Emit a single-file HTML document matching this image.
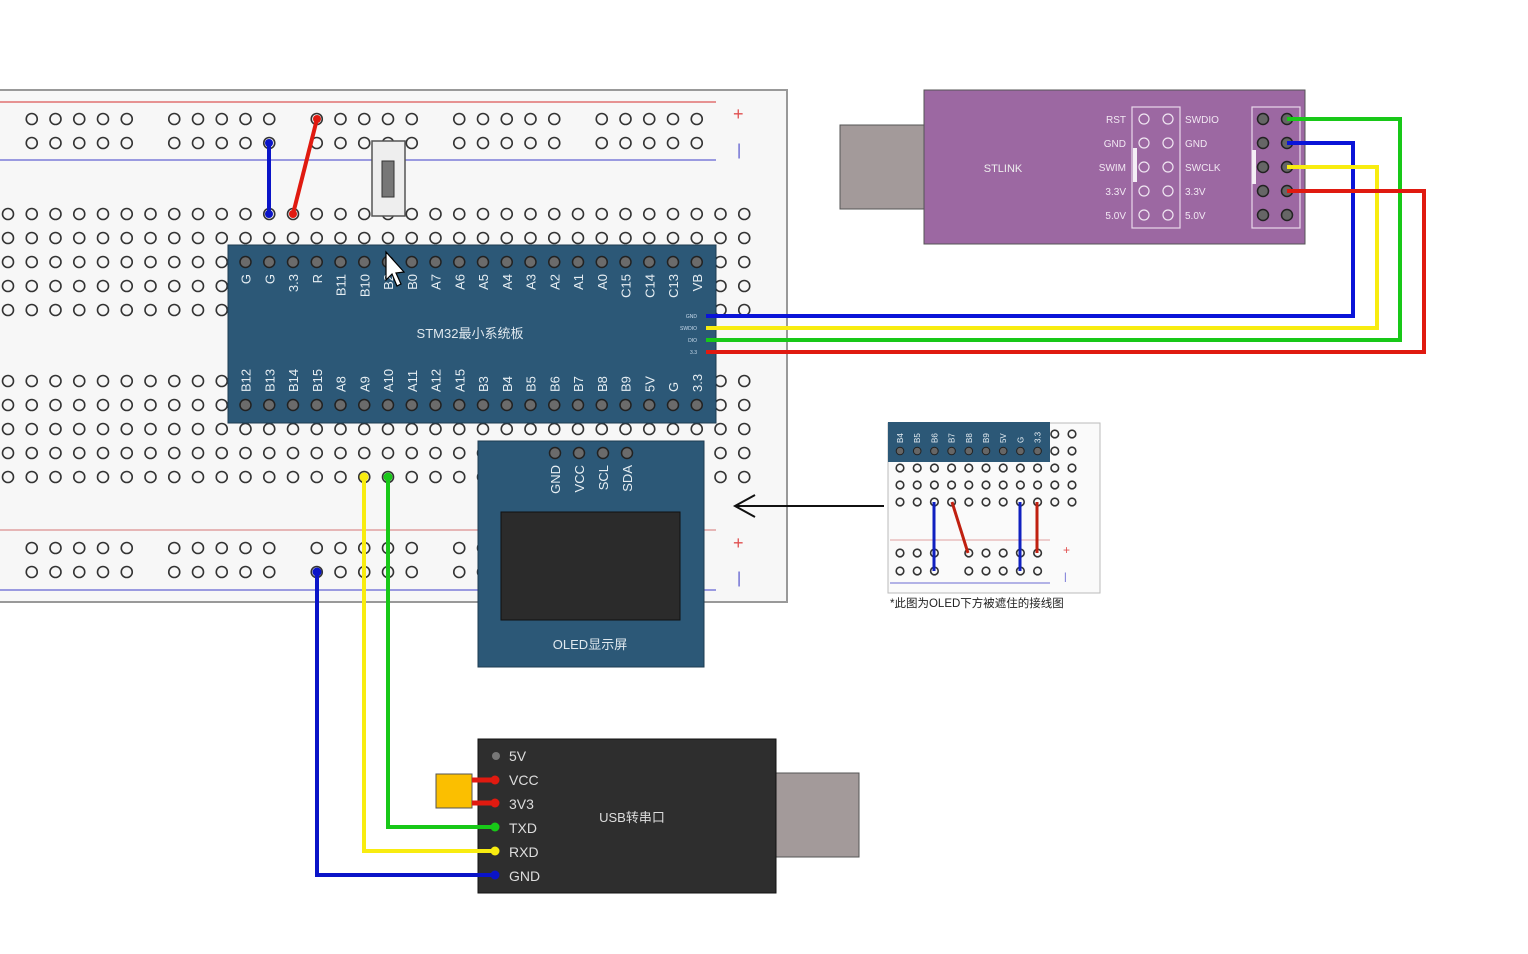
<!DOCTYPE html>
<html><head><meta charset="utf-8"><style>
html,body{margin:0;padding:0;background:#fff;width:1528px;height:954px;overflow:hidden}
svg{display:block}
text{font-family:"Liberation Sans","Noto Sans CJK SC",sans-serif}
</style></head><body>
<svg id="s" width="1528" height="954" xmlns="http://www.w3.org/2000/svg">
<rect x="-4" y="90" width="791" height="512" fill="#f7f7f7" stroke="#999" stroke-width="2"/>
<line x1="0" y1="102" x2="716" y2="102" stroke="#e07070" stroke-width="1.5"/>
<line x1="0" y1="160" x2="716" y2="160" stroke="#9a9ae0" stroke-width="2"/>
<line x1="0" y1="530" x2="716" y2="530" stroke="#e0a0a0" stroke-width="1.5"/>
<line x1="0" y1="590" x2="716" y2="590" stroke="#9a9ae0" stroke-width="2"/>
<text x="733" y="120" fill="#e05050" font-size="18">+</text>
<text x="737" y="155" fill="#6060d0" font-size="16">|</text>
<text x="733" y="549" fill="#e05050" font-size="18">+</text>
<text x="737" y="583" fill="#6060d0" font-size="16">|</text>
<g id="holes"></g>
<g id="wires1"></g>
<rect x="372" y="141" width="33" height="75" fill="#eee" stroke="#555" stroke-width="1.5"/>
<rect x="382" y="161" width="12" height="36" fill="#777" stroke="#333"/>
<rect x="228" y="245" width="488" height="178" fill="#2c5877" stroke="#1d3b52"/>
<g id="stm"></g>
<text x="470" y="338" fill="#dfe8ee" font-size="13" text-anchor="middle">STM32最小系统板</text>
<rect x="478" y="441" width="226" height="226" fill="#2c5877" stroke="#1d3b52"/>
<rect x="501" y="512" width="179" height="108" fill="#2b2b2b" stroke="#111"/>
<g id="oled"></g>
<text x="590" y="649" fill="#dfe8ee" font-size="13" text-anchor="middle">OLED显示屏</text>
<rect x="840" y="125" width="85" height="84" fill="#a39a9a" stroke="#555"/>
<rect x="924" y="90" width="381" height="154" fill="#9c68a2" stroke="#555"/>
<text x="1003" y="172" fill="#eee" font-size="11" text-anchor="middle">STLINK</text>
<rect x="1132" y="107" width="48" height="121" fill="none" stroke="#e8d8ea" stroke-width="1.2"/>
<rect x="1252" y="107" width="48" height="121" fill="none" stroke="#e8d8ea" stroke-width="1.2"/>
<rect x="1133" y="148" width="4" height="34" fill="#f4eef5"/>
<rect x="1252" y="150" width="4" height="34" fill="#f4eef5"/>
<g id="stl"></g>
<rect x="776" y="773" width="83" height="84" fill="#a39a9a" stroke="#555"/>
<rect x="478" y="739" width="298" height="154" fill="#2e2e2e" stroke="#111"/>
<rect x="436" y="774" width="36" height="34" fill="#fbbf00" stroke="#555"/>
<circle cx="496" cy="756" r="4" fill="#777"/>
<text x="632" y="822" fill="#ddd" font-size="13" text-anchor="middle">USB转串口</text>
<g id="usb"></g>
<line x1="884" y1="506" x2="735" y2="506" stroke="#111" stroke-width="2"/>
<polyline points="755,495 735,506 755,517" fill="none" stroke="#111" stroke-width="2"/>
<rect x="888" y="423" width="212" height="170" fill="#fafafa" stroke="#bbb"/>
<line x1="890" y1="540" x2="1050" y2="540" stroke="#e0a0a0"/>
<line x1="890" y1="583" x2="1050" y2="583" stroke="#9a9ae0" stroke-width="1.5"/>
<text x="1063" y="554" fill="#e05050" font-size="12">+</text>
<text x="1064" y="580" fill="#6060d0" font-size="10">|</text>
<g id="ins"></g>
<text x="890" y="607" fill="#222" font-size="11.5">*此图为OLED下方被遮住的接线图</text>
<g id="wires2"></g>
</svg>
<script>
(function(){
var NS="http://www.w3.org/2000/svg";
function el(p,t,a,txt){var e=document.createElementNS(NS,t);for(var k in a)e.setAttribute(k,a[k]);if(txt!=null)e.textContent=txt;document.getElementById(p).appendChild(e);return e;}
function cx(i){return 8+i*23.75;}
function hole(g,x,y,r){el(g,"circle",{cx:x,cy:y,r:r||5.5,fill:"none",stroke:"#333","stroke-width":1.6});}
[214,238,262,286,310,381,405,429,453,477].forEach(function(y){for(var i=0;i<32;i++)hole("holes",cx(i),y);});
[119,143,548,572].forEach(function(y){[1,7,13,19,25].forEach(function(s){for(var i=s;i<s+5;i++)hole("holes",cx(i),y);});});
var tl=["G","G","3.3","R","B11","B10","B2","B0","A7","A6","A5","A4","A3","A2","A1","A0","C15","C14","C13","VB"];
var bl=["B12","B13","B14","B15","A8","A9","A10","A11","A12","A15","B3","B4","B5","B6","B7","B8","B9","5V","G","3.3"];
for(var k=0;k<20;k++){var x=cx(10+k);
el("stm","circle",{cx:x,cy:262,r:5.5,fill:"#6b6b6b",stroke:"#222","stroke-width":1.5});
el("stm","circle",{cx:x,cy:405,r:5.5,fill:"#6b6b6b",stroke:"#222","stroke-width":1.5});
el("stm","text",{x:x+5,y:274,transform:"rotate(-90 "+(x+5)+" 274)","text-anchor":"end",fill:"#e6eef3","font-size":13},tl[k]);
el("stm","text",{x:x+5,y:392,transform:"rotate(-90 "+(x+5)+" 392)","text-anchor":"start",fill:"#e6eef3","font-size":13},bl[k]);}
["GND","SWDIO","DIO","3.3"].forEach(function(t,i){el("stm","text",{x:697,y:318+i*12,fill:"#cde","font-size":5,"text-anchor":"end"},t);});
["GND","VCC","SCL","SDA"].forEach(function(t,i){var x=555+i*24;el("oled","circle",{cx:x,cy:453,r:5.5,fill:"#6b6b6b",stroke:"#222","stroke-width":1.5});
el("oled","text",{x:x+5,y:465,transform:"rotate(-90 "+(x+5)+" 465)","text-anchor":"end",fill:"#e6eef3","font-size":13},t);});
var L=["RST","GND","SWIM","3.3V","5.0V"],R=["SWDIO","GND","SWCLK","3.3V","5.0V"];
for(var i=0;i<5;i++){var y=119+i*24;
el("stl","text",{x:1126,y:y+4,"text-anchor":"end",fill:"#f2e8f3","font-size":10},L[i]);
el("stl","text",{x:1185,y:y+4,fill:"#f2e8f3","font-size":10},R[i]);
el("stl","circle",{cx:1144,cy:y,r:5,fill:"none",stroke:"#f0e6f2","stroke-width":1.2});
el("stl","circle",{cx:1168,cy:y,r:5,fill:"none",stroke:"#f0e6f2","stroke-width":1.2});
el("stl","circle",{cx:1263,cy:y,r:5.5,fill:"#666",stroke:"#222","stroke-width":1.5});
el("stl","circle",{cx:1287,cy:y,r:5.5,fill:"#666",stroke:"#222","stroke-width":1.5});}
["5V","VCC","3V3","TXD","RXD","GND"].forEach(function(t,i){el("usb","text",{x:509,y:761+i*24,fill:"#ddd","font-size":14},t);});
el("ins","rect",{x:888,y:422,width:162,height:40,fill:"#2c5877"});
var it=["B4","B5","B6","B7","B8","B9","5V","G","3.3"];
for(var k2=0;k2<9;k2++){var x2=900+k2*17.2;el("ins","circle",{cx:x2,cy:451,r:3.8,fill:"#666",stroke:"#222"});
el("ins","text",{x:x2+3,y:443,transform:"rotate(-90 "+(x2+3)+" 443)","text-anchor":"start",fill:"#e6eef3","font-size":8},it[k2]);}
for(var k3=9;k3<11;k3++){[434,451].forEach(function(y){hole("ins",900+k3*17.2,y,3.8);});}
[468,485,502].forEach(function(y){for(var k=0;k<11;k++)hole("ins",900+k*17.2,y,3.8);});
[553,571].forEach(function(y){[0,1,2,4,5,6,7,8].forEach(function(k){hole("ins",900+k*17.2,y,3.8);});});
function w(g,pts,c,sw){el(g,"polyline",{points:pts,fill:"none",stroke:c,"stroke-width":sw||4});}
w("ins","934,502 934,571","#1020c0",3);w("ins","952,502 968,553","#c02010",3);w("ins","1020,502 1020,571","#1020c0",3);w("ins","1037,502 1037,553","#c02010",3);
w("wires1","269,143 269,214","#0a14c8");w("wires1","317,119 293,214","#e01a10");
[[269,143,"#0a14c8"],[269,214,"#0a14c8"],[317,119,"#e01a10"],[293,214,"#e01a10"]].forEach(function(a){el("wires1","circle",{cx:a[0],cy:a[1],r:4,fill:a[2]});});
w("wires2","706,316 1353,316 1353,143 1287,143","#0a14d8");
w("wires2","706,328 1377,328 1377,167 1287,167","#f8ec10");
w("wires2","706,340 1400,340 1400,119 1287,119","#18c818");
w("wires2","706,352 1424,352 1424,191 1287,191","#e01a10");
w("wires2","364,477 364,851 495,851","#f8ec10");
w("wires2","388,477 388,827 495,827","#18c818");
w("wires2","317,572 317,875 495,875","#0a14c8");
w("wires2","472,780 495,780","#e01a10",5);w("wires2","472,803 495,803","#e01a10",5);
[[364,477,"#f8ec10"],[388,477,"#18c818"],[317,572,"#0a14c8"],[495,780,"#e01a10"],[495,803,"#e01a10"],[495,827,"#18c818"],[495,851,"#f8ec10"],[495,875,"#0a14c8"]].forEach(function(a){el("wires2","circle",{cx:a[0],cy:a[1],r:4.5,fill:a[2]});});
el("wires2","polygon",{points:"386,252 386,280 392,274 397,286 401,284 396,273 404,272",fill:"#fff",stroke:"#000","stroke-width":1.2});
})();
</script>
</body></html>
